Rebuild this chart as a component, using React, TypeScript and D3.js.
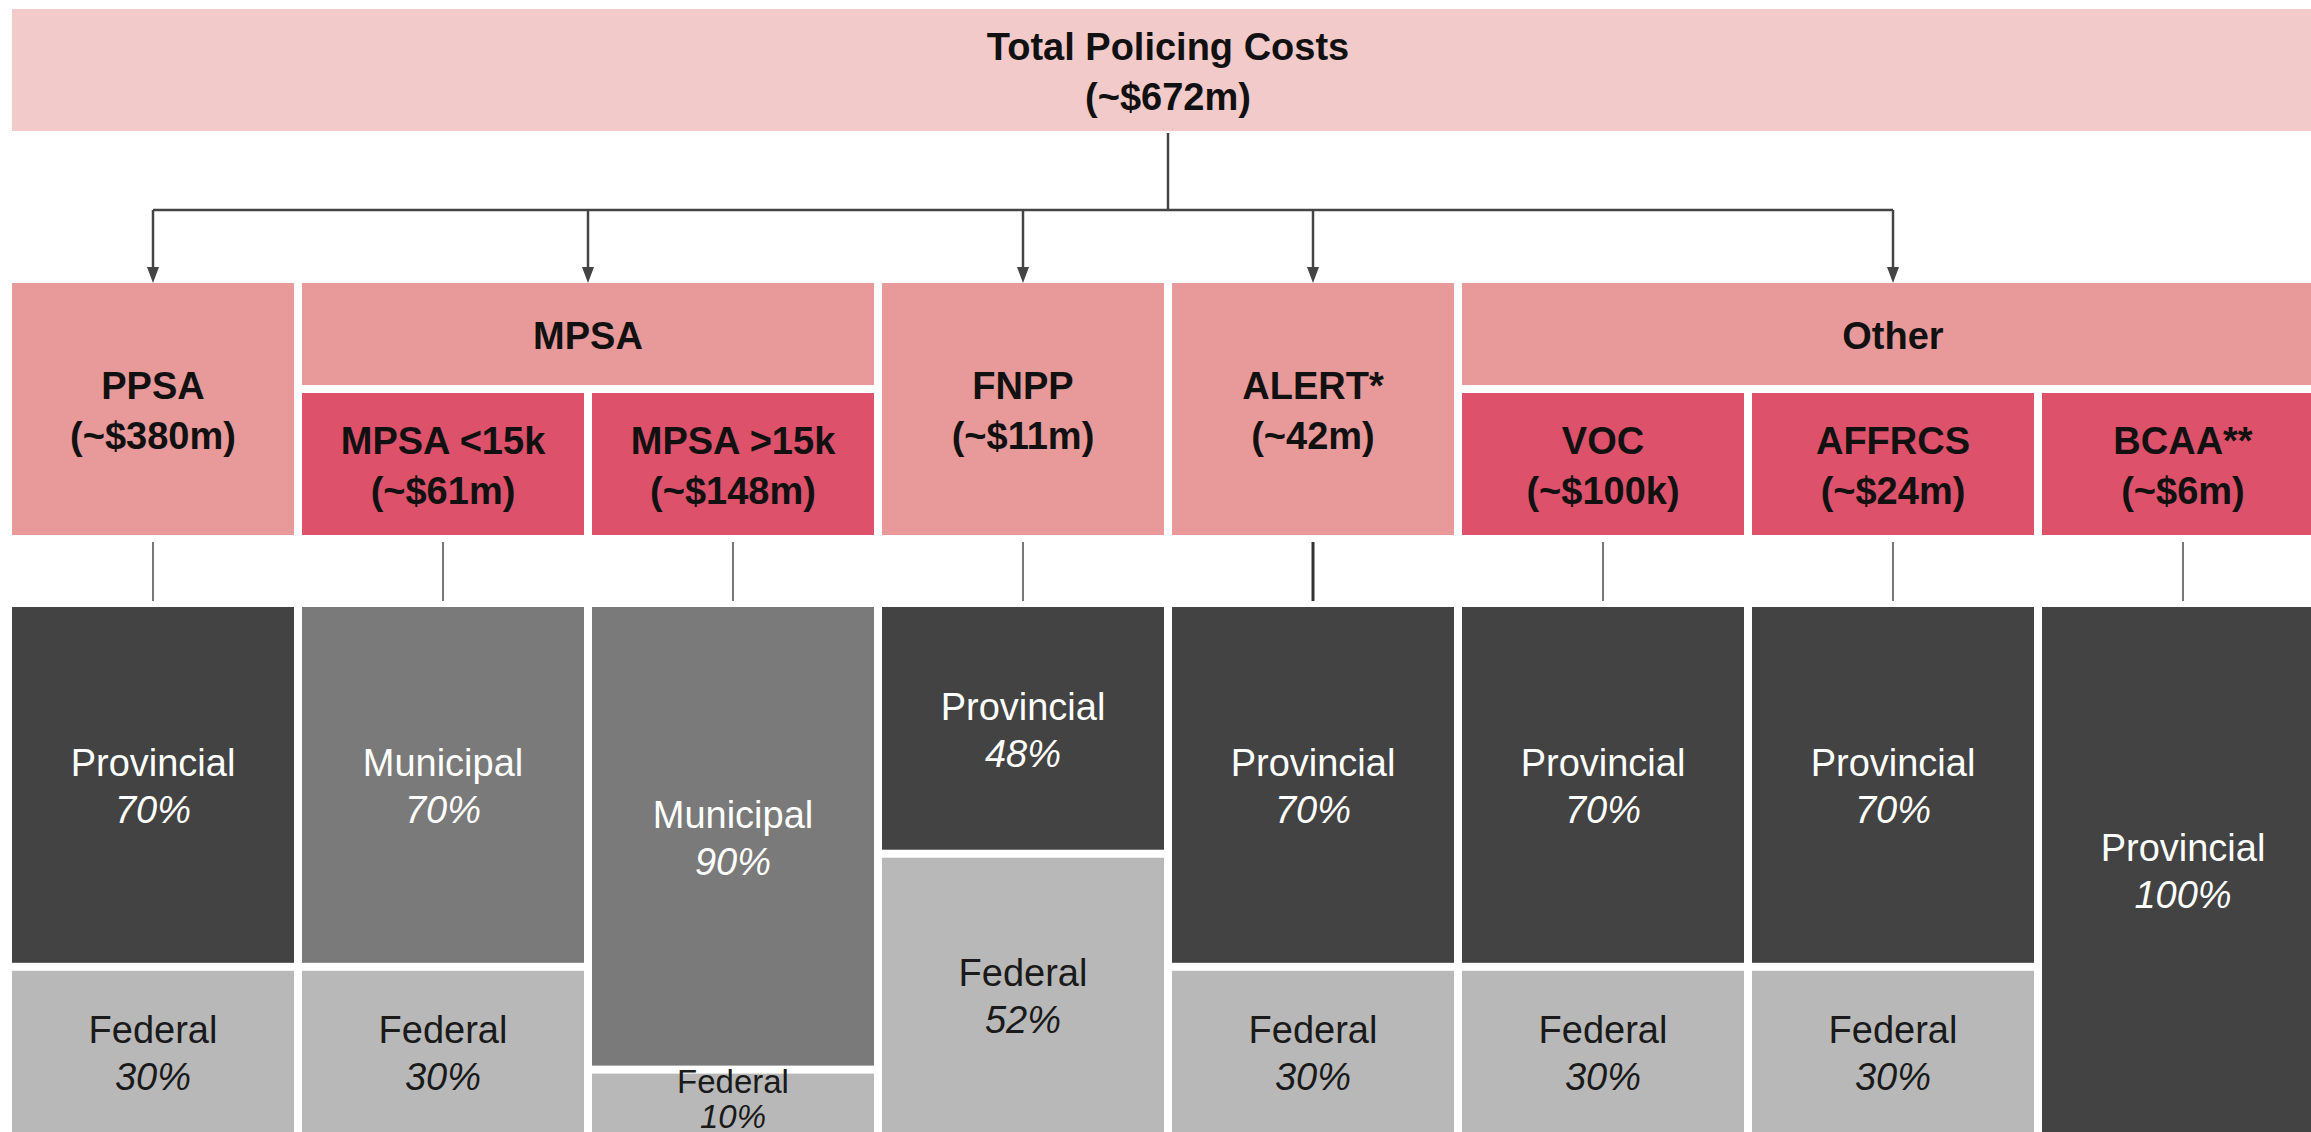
import React from 'react';
import * as d3 from 'd3';

// Funding breakdown of policing costs, drawn as a box tree
const TITLE = 'Total Policing Costs';
const TITLE_COST = '(~$672m)';

const COLUMNS = ['PPSA', 'MPSA <15k', 'MPSA >15k', 'FNPP', 'ALERT*', 'VOC', 'AFFRCS', 'BCAA**'];
const COSTS = ['(~$380m)', '(~$61m)', '(~$148m)', '(~$11m)', '(~42m)', '(~$100k)', '(~$24m)', '(~$6m)'];

const GROUP_NAMES = ['PPSA', 'MPSA', 'FNPP', 'ALERT*', 'Other'];
const GROUP_COLUMNS = [
  ['PPSA'],
  ['MPSA <15k', 'MPSA >15k'],
  ['FNPP'],
  ['ALERT*'],
  ['VOC', 'AFFRCS', 'BCAA**'],
];

const FIRST_LEVEL = ['Provincial', 'Municipal', 'Municipal', 'Provincial', 'Provincial', 'Provincial', 'Provincial', 'Provincial'];
const FIRST_SHARE = [70, 70, 90, 48, 70, 70, 70, 100];
const FEDERAL_SHARE = [30, 30, 10, 52, 30, 30, 30, 0];

const W = 2311;
const H = 1132;
const FONT = '"Liberation Sans", Arial, Helvetica, sans-serif';

const LEVEL_FILL: Record<string, string> = {
  Provincial: '#434343',
  Municipal: '#7a7a7a',
  Federal: '#b8b8b8',
};
const LEVEL_TEXT: Record<string, string> = {
  Provincial: '#ffffff',
  Municipal: '#ffffff',
  Federal: '#1a1a1a',
};

const GAP = 8;
const TOP_Y0 = 9;
const TOP_Y1 = 131;
const BUS_Y = 210;
const L2_Y0 = 283;
const L2_HEAD_Y1 = 385;
const L2_Y1 = 535;
const CONN_Y0 = 542;
const CONN_Y1 = 601;
const L3_Y0 = 607;

const x = d3.scaleBand<string>().domain(COLUMNS).range([12, 2324]).paddingInner(8 / 290);
const y = d3.scaleLinear().domain([0, 100]).range([L3_Y0, L3_Y0 + 514]);

const cx = (c: string) => (x(c) as number) + x.bandwidth() / 2;

function TwoLines({ cxv, cyv, a, b, bold, italicB, fill, size = 38, spacing = 48 }: any) {
  return (
    <g fill={fill} fontFamily={FONT} fontSize={size} fontWeight={bold ? 'bold' : 'normal'} textAnchor="middle">
      <text x={cxv} y={cyv - spacing / 2} dominantBaseline="central">{a}</text>
      <text x={cxv} y={cyv + spacing / 2} dominantBaseline="central" fontStyle={italicB ? 'italic' : 'normal'}>{b}</text>
    </g>
  );
}

function Arrow({ xv }: { xv: number }) {
  const tip = L2_Y0;
  const head = d3.path();
  head.moveTo(xv - 6, tip - 16);
  head.lineTo(xv + 6, tip - 16);
  head.lineTo(xv, tip);
  head.closePath();
  return (
    <g>
      <line x1={xv} x2={xv} y1={BUS_Y} y2={tip - 14} stroke="#444" strokeWidth={2.5} />
      <path d={head.toString()} fill="#444" />
    </g>
  );
}

export default function App() {
  const x0 = x(COLUMNS[0]) as number;
  const x1 = (x(COLUMNS[COLUMNS.length - 1]) as number) + x.bandwidth();
  const midX = (x0 + x1) / 2;

  const groups = GROUP_NAMES.map((name, i) => {
    const cols = GROUP_COLUMNS[i];
    const gx0 = x(cols[0]) as number;
    const gx1 = (x(cols[cols.length - 1]) as number) + x.bandwidth();
    return { name, cols, gx0, gx1, center: (gx0 + gx1) / 2 };
  });

  return (
    <div style={{ position: 'absolute', left: 0, top: 0 }}>
      <svg width={W} height={H} style={{ display: 'block', background: '#fff' }}>
        {/* root */}
        <rect x={x0} y={TOP_Y0} width={x1 - x0} height={TOP_Y1 - TOP_Y0} fill="#f3caca" />
        <TwoLines cxv={midX} cyv={(TOP_Y0 + TOP_Y1) / 2 + 2} a={TITLE} b={TITLE_COST} bold fill="#111" spacing={50} />

        {/* connectors from root */}
        <line x1={midX} x2={midX} y1={TOP_Y1 + 2} y2={BUS_Y} stroke="#444" strokeWidth={2.5} />
        <line x1={groups[0].center} x2={groups[groups.length - 1].center} y1={BUS_Y} y2={BUS_Y} stroke="#444" strokeWidth={2.5} />
        {groups.map((g) => <Arrow key={g.name} xv={g.center} />)}

        {/* level 2 */}
        {groups.map((g) => {
          if (g.cols.length === 1) {
            const ci = COLUMNS.indexOf(g.cols[0]);
            return (
              <g key={g.name}>
                <rect x={g.gx0} y={L2_Y0} width={g.gx1 - g.gx0} height={L2_Y1 - L2_Y0} fill="#e89999" />
                <TwoLines cxv={g.center} cyv={(L2_Y0 + L2_Y1) / 2 + 2} a={COLUMNS[ci]} b={COSTS[ci]} bold fill="#111" spacing={50} />
              </g>
            );
          }
          return (
            <g key={g.name}>
              <rect x={g.gx0} y={L2_Y0} width={g.gx1 - g.gx0} height={L2_HEAD_Y1 - L2_Y0} fill="#e89999" />
              <text x={g.center} y={(L2_Y0 + L2_HEAD_Y1) / 2 + 2} dominantBaseline="central" textAnchor="middle"
                fontFamily={FONT} fontSize={38} fontWeight="bold" fill="#111">{g.name}</text>
              {g.cols.map((c) => {
                const ci = COLUMNS.indexOf(c);
                const sy0 = L2_HEAD_Y1 + GAP;
                return (
                  <g key={c}>
                    <rect x={x(c)} y={sy0} width={x.bandwidth()} height={L2_Y1 - sy0} fill="#dd516b" />
                    <TwoLines cxv={cx(c)} cyv={(sy0 + L2_Y1) / 2 + 2} a={c} b={COSTS[ci]} bold fill="#111" spacing={50} />
                  </g>
                );
              })}
            </g>
          );
        })}

        {/* level 2 -> level 3 ticks */}
        {COLUMNS.map((c, i) => (
          <line key={c} x1={cx(c)} x2={cx(c)} y1={CONN_Y0} y2={CONN_Y1}
            stroke={i === 4 ? '#333' : '#777'} strokeWidth={i === 4 ? 3 : 2} />
        ))}

        {/* level 3 funding split */}
        {COLUMNS.map((c, i) => {
          const segs = [
            { level: FIRST_LEVEL[i], share: FIRST_SHARE[i] },
            { level: 'Federal', share: FEDERAL_SHARE[i] },
          ].filter((s) => s.share > 0);
          let cum = 0;
          return (
            <g key={c}>
              {segs.map((s, j) => {
                const top = j === 0 ? y(cum) : y(cum) + GAP / 2;
                cum += s.share;
                const bottom = j === segs.length - 1 ? H + 10 : y(cum) - GAP / 2;
                const visBottom = Math.min(bottom, H);
                const small = visBottom - top < 100;
                return (
                  <g key={s.level}>
                    <rect x={x(c)} y={top} width={x.bandwidth()} height={bottom - top} fill={LEVEL_FILL[s.level]} />
                    <TwoLines cxv={cx(c)} cyv={(top + visBottom) / 2 - (small ? 4 : -2)} a={s.level} b={`${s.share}%`}
                      italicB fill={LEVEL_TEXT[s.level]} size={small ? 33 : 38} spacing={small ? 35 : 47} />
                  </g>
                );
              })}
            </g>
          );
        })}
      </svg>
    </div>
  );
}
